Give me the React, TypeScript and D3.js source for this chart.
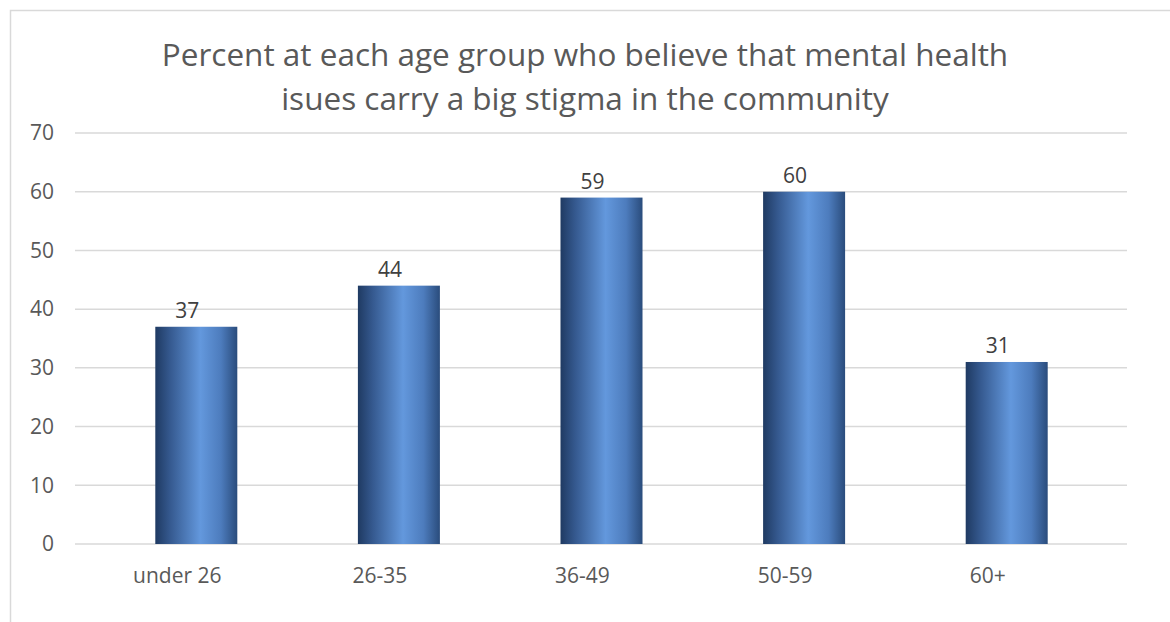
import React from "react";
import * as d3 from "d3";

const categories = ["under 26", "26-35", "36-49", "50-59", "60+"];
const values = [37, 44, 59, 60, 31];
const yTicks = [0, 10, 20, 30, 40, 50, 60, 70];
const titleLines = [
  "Percent at each age group who believe that mental health",
  "isues carry a big stigma in the community",
];

const W = 1170;
const H = 622;
const FONT = "'Open Sans', 'Noto Sans', sans-serif";
const TEXT = "#595959";

export default function App() {
  const x = d3.scaleBand<string>().domain(categories).range([76, 1089]).padding(0);
  const y = d3.scaleLinear().domain([0, 70]).range([544, 133]);
  const barW = 82;
  const barOffset = 19;

  return (
    <svg
      width={W}
      height={H}
      style={{ position: "absolute", left: 0, top: 0, display: "block", background: "#fff" }}
    >
      <defs>
        <linearGradient id="barGrad" x1="0" x2="1" y1="0" y2="0">
          <stop offset="0%" stopColor="#1f3a62" />
          <stop offset="18%" stopColor="#35598f" />
          <stop offset="55%" stopColor="#6398dd" />
          <stop offset="80%" stopColor="#4d7cbd" />
          <stop offset="100%" stopColor="#2a4c7c" />
        </linearGradient>
      </defs>
      <rect x={10.5} y={10.5} width={1200} height={700} fill="none" stroke="#d9d9d9" strokeWidth={1.5} />
      {titleLines.map((t, i) => (
        <text
          key={t}
          x={585}
          y={66 + i * 44}
          textAnchor="middle"
          fontFamily={FONT}
          fontSize={31.5}
          fill={TEXT}
        >
          {t}
        </text>
      ))}
      {yTicks.map((t) => (
        <g key={t}>
          <line x1={75} x2={1127} y1={y(t)} y2={y(t)} stroke="#d9d9d9" strokeWidth={1.5} />
          <text
            x={54}
            y={y(t)}
            dy="0.35em"
            textAnchor="end"
            fontFamily={FONT}
            fontSize={21}
            fill={TEXT}
          >
            {t}
          </text>
        </g>
      ))}
      {categories.map((c, i) => {
        const cx = (x(c) as number) + x.bandwidth() / 2;
        const bx = cx + barOffset - barW / 2;
        return (
          <g key={c}>
            <rect
              x={bx}
              y={y(values[i])}
              width={barW}
              height={y(0) - y(values[i])}
              fill="url(#barGrad)"
            />
            <text
              x={cx + 10}
              y={y(values[i]) - 9}
              textAnchor="middle"
              fontFamily={FONT}
              fontSize={21}
              fill="#404040"
            >
              {values[i]}
            </text>
            <text
              x={cx}
              y={583}
              textAnchor="middle"
              fontFamily={FONT}
              fontSize={21}
              fill={TEXT}
            >
              {c}
            </text>
          </g>
        );
      })}
    </svg>
  );
}
